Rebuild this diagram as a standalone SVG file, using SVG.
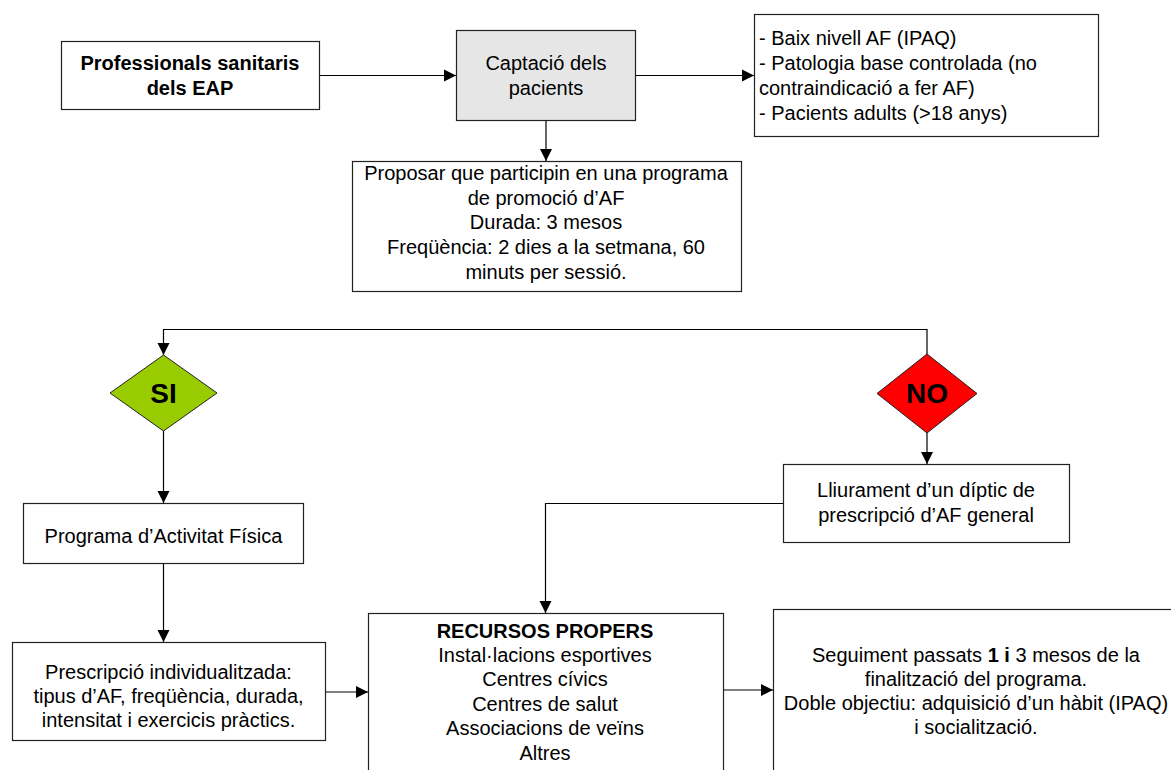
<svg xmlns="http://www.w3.org/2000/svg" width="1171" height="770" viewBox="0 0 1171 770">
<style>
.box{fill:#fff;stroke:#222;stroke-width:1.2}
.grey{fill:#e6e6e6}
.t{font-family:"Liberation Sans",Arial,sans-serif;font-size:20px;fill:#000;text-anchor:middle}
.l{text-anchor:start}
.b{font-weight:bold}
.big{font-size:28px;font-weight:bold}
.c{fill:none;stroke:#000;stroke-width:1.2;marker-end:url(#ah)}
</style>
<defs>
<marker id="ah" markerWidth="13" markerHeight="13" refX="12" refY="6.5" orient="auto" markerUnits="userSpaceOnUse">
<path d="M0,0.5 L12,6.5 L0,12.5 Z" fill="#000"/>
</marker>
</defs>
<rect width="1171" height="770" fill="#fff"/>
<g id="connectors">
<path class="c" d="M319,75.5 H456"/>
<path class="c" d="M635,75.5 H754"/>
<path class="c" d="M546,120 V161"/>
<path class="c" d="M927,354 V329.5 H163.5 V355"/>
<path class="c" d="M163.5,431 V503"/>
<path class="c" d="M927,433 V464"/>
<path class="c" d="M783,503.5 H545.5 V613"/>
<path class="c" d="M163.5,563 V642"/>
<path class="c" d="M325,692 H368"/>
<path class="c" d="M723,690 H773"/>
</g>
<g id="professionals">
<rect class="box" x="61.5" y="41.5" width="258" height="68"/>
<text class="t b" x="190" y="70">Professionals sanitaris</text>
<text class="t b" x="190" y="95">dels EAP</text>
</g>
<g id="captacio">
<rect class="box grey" x="456.5" y="30.5" width="179" height="90"/>
<text class="t" x="546" y="70">Captació dels</text>
<text class="t" x="546" y="95">pacients</text>
</g>
<g id="criteris">
<rect class="box" x="754.5" y="14.5" width="344" height="122"/>
<text class="t l" x="759" y="45">- Baix nivell AF (IPAQ)</text>
<text class="t l" x="759" y="70">- Patologia base controlada (no</text>
<text class="t l" x="759" y="95">contraindicació a fer AF)</text>
<text class="t l" x="759" y="120">- Pacients adults (&gt;18 anys)</text>
</g>
<g id="proposar">
<rect class="box" x="352.5" y="161.5" width="389" height="130"/>
<text class="t" x="546" y="180">Proposar que participin en una programa</text>
<text class="t" x="546" y="205">de promoció d’AF</text>
<text class="t" x="546" y="229">Durada: 3 mesos</text>
<text class="t" x="546" y="254">Freqüència: 2 dies a la setmana, 60</text>
<text class="t" x="546" y="279">minuts per sessió.</text>
</g>
<g id="si">
<path d="M163.5,355 L217,393 L163.5,431 L110,393 Z" fill="#99cc00" stroke="#222" stroke-width="1"/>
<text class="t big" x="163.5" y="403">SI</text>
</g>
<g id="no">
<path d="M927,354 L977,393.5 L927,433 L877,393.5 Z" fill="#ff0000" stroke="#222" stroke-width="1"/>
<text class="t big" x="927" y="403">NO</text>
</g>
<g id="lliurament">
<rect class="box" x="783.5" y="464.5" width="286" height="78"/>
<text class="t" x="926" y="497">Lliurament d’un díptic de</text>
<text class="t" x="926" y="522">prescripció d’AF general</text>
</g>
<g id="programa">
<rect class="box" x="23.5" y="503.5" width="280" height="60"/>
<text class="t" x="163.5" y="543">Programa d’Activitat Física</text>
</g>
<g id="prescripcio">
<rect class="box" x="12.5" y="642.5" width="313" height="98"/>
<text class="t" x="168.5" y="679">Prescripció individualitzada:</text>
<text class="t" x="168.5" y="703">tipus d’AF, freqüència, durada,</text>
<text class="t" x="168.5" y="727">intensitat i exercicis pràctics.</text>
</g>
<g id="recursos">
<rect class="box" x="368.5" y="613.5" width="355" height="170"/>
<text class="t b" x="545" y="638">RECURSOS PROPERS</text>
<text class="t" x="545" y="662">Instal·lacions esportives</text>
<text class="t" x="545" y="686">Centres cívics</text>
<text class="t" x="545" y="711">Centres de salut</text>
<text class="t" x="545" y="735">Associacions de veïns</text>
<text class="t" x="545" y="760">Altres</text>
</g>
<g id="seguiment">
<rect class="box" x="773.5" y="609.5" width="420" height="180"/>
<text class="t" x="976" y="662">Seguiment passats <tspan class="b">1 i</tspan> 3 mesos de la</text>
<text class="t" x="976" y="686">finalització del programa.</text>
<text class="t" x="976" y="710">Doble objectiu: adquisició d’un hàbit (IPAQ)</text>
<text class="t" x="976" y="734">i socialització.</text>
</g>
</svg>
